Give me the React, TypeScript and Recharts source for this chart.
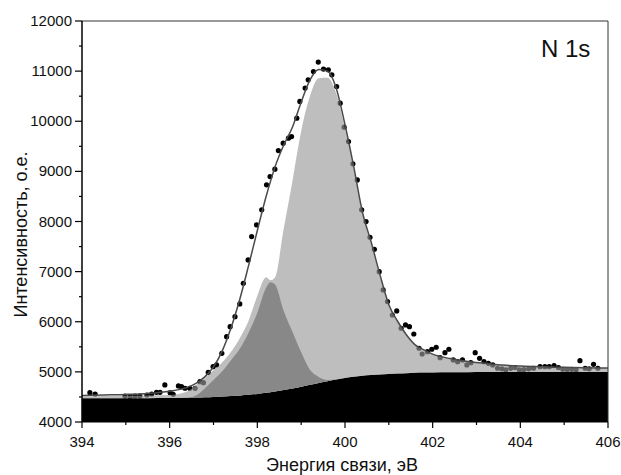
import React from 'react'
import { ComposedChart, Area, Line, Scatter, XAxis, YAxis, ReferenceLine } from 'recharts'

// the picture is taken of #root only, so let it span the whole window
document.body.style.margin = '0'

// binding energy grid for the fitted curves (eV)
const energy = [
  394, 394.5, 395, 395.5, 396, 396.4, 396.6, 396.8, 397, 397.2, 397.4, 397.6, 397.8,
  398, 398.2, 398.3, 398.4, 398.6, 398.8, 399, 399.2, 399.4, 399.6, 399.8,
  400, 400.2, 400.4, 400.6, 400.8, 401, 401.2, 401.4, 401.6, 401.8,
  402, 402.4, 402.8, 403.2, 403.6, 404, 404.5, 405, 405.5, 406,
]

// Shirley background
const background = [
  4475, 4475, 4475, 4476, 4478, 4483, 4487, 4493, 4500, 4508, 4518, 4530, 4544,
  4560, 4582, 4595, 4608, 4638, 4670, 4705, 4741, 4778, 4813, 4847,
  4878, 4903, 4922, 4937, 4950, 4960, 4968, 4975, 4981, 4986,
  4990, 4993, 4995, 4996, 4997, 4998, 4999, 5000, 5000, 5000,
]

// light grey components (398.2 eV and 399.5 eV)
const lightPeaks = [
  4515, 4520, 4525, 4530, 4540, 4610, 4740, 4880, 5030, 5190, 5400, 5670, 6020,
  6520, 6890, 6830, 6880, 7850, 8800, 9800, 10500, 10860, 10870, 10560,
  9850, 9040, 8150, 7550, 6900, 6330, 6000, 5735, 5535, 5436,
  5352, 5262, 5203, 5168, 5133, 5113, 5098, 5088, 5080, 5076,
]

// dark grey component (398.3 eV)
const darkPeak = [
  4475, 4475, 4475, 4476, 4478, 4485, 4530, 4670, 4840, 5010, 5230, 5460, 5780,
  6180, 6680, 6790, 6750, 6220, 5800, 5390, 5040, 4900, 4840, 4847,
  4878, 4903, 4922, 4937, 4950, 4960, 4968, 4975, 4981, 4986,
  4990, 4993, 4995, 4996, 4997, 4998, 4999, 5000, 5000, 5000,
]

// fit envelope
const envelope = [
  4530, 4540, 4550, 4570, 4615, 4690, 4770, 4900, 5100, 5420, 5880, 6450, 7120,
  7820, 8500, 8800, 9080, 9520, 9880, 10380, 10820, 11030, 11000, 10660,
  9930, 9090, 8180, 7580, 6930, 6340, 6010, 5740, 5540, 5440,
  5355, 5265, 5205, 5170, 5135, 5115, 5100, 5090, 5082, 5078,
]

// measured points
const dotEnergy = [
  394.18, 394.3, 394.98, 395.1, 395.21, 395.32, 395.48, 395.59, 395.7, 395.78,
  395.89, 396.01, 396.08, 396.2, 396.27, 396.35, 396.46, 396.58, 396.69, 396.77,
  396.88, 396.99, 397.07, 397.19, 397.3, 397.38, 397.49, 397.6, 397.68, 397.79,
  397.87, 397.98, 398.1, 398.21, 398.29, 398.4, 398.48, 398.59, 398.71, 398.78,
  398.9, 398.97, 399.09, 399.16, 399.28, 399.39, 399.51, 399.62, 399.7, 399.81,
  399.89, 399.98, 400.08, 400.18, 400.28, 400.38, 400.48, 400.57, 400.67, 400.78,
  400.87, 400.97, 401.08, 401.18, 401.28, 401.38, 401.47, 401.57, 401.69, 401.76,
  401.88, 401.98, 402.08, 402.17, 402.28, 402.37, 402.47, 402.57, 402.68, 402.78,
  402.87, 402.97, 403.07, 403.17, 403.27, 403.37, 403.48, 403.58, 403.67, 403.78,
  403.88, 403.98, 404.08, 404.19, 404.3, 404.45, 404.56, 404.66, 404.77, 404.87,
  404.97, 405.07, 405.17, 405.27, 405.36, 405.48, 405.57, 405.67, 405.77,
]
const dotCounts = [
  4585, 4559, 4519, 4505, 4519, 4519, 4539, 4559, 4592, 4592,
  4739, 4585, 4552, 4719, 4705, 4673, 4672, 4672, 4805, 4785,
  4990, 5104, 5138, 5371, 5703, 5902, 6102, 6355, 6768, 7234,
  7699, 7932, 8232, 8731, 8896, 9043, 9415, 9563, 9663, 9695,
  10062, 10395, 10661, 10826, 10992, 11180, 11040, 11026, 10926, 10693,
  10361, 9882, 9595, 9150, 8830, 8232, 7998, 7686, 7446, 7000,
  6635, 6402, 6135, 6216, 5870, 5936, 5902, 5756, 5471, 5357,
  5403, 5451, 5491, 5284, 5384, 5451, 5238, 5204, 5238, 5138,
  5184, 5384, 5271, 5204, 5171, 5138, 5072, 5060, 5038, 5070,
  5085, 5038, 5045, 5060, 5072, 5104, 5104, 5104, 5125, 5085,
  5052, 5045, 5050, 5038, 5224, 5072, 5060, 5151, 5072,
]

const xTicks = [394, 395, 396, 397, 398, 399, 400, 401, 402, 403, 404, 405, 406]
const yTicks = [
  4000, 4500, 5000, 5500, 6000, 6500, 7000, 7500, 8000,
  8500, 9000, 9500, 10000, 10500, 11000, 11500, 12000,
]

const font = '"Liberation Sans", Arial, sans-serif'

const chartData = energy.map((e, i) => ({
  e,
  bg: background[i],
  light: [background[i], lightPeaks[i]],
  dark: [background[i], darkPeak[i]],
  fit: envelope[i],
}))

const dots = dotEnergy.map((e, i) => ({ e, y: dotCounts[i] }))

const YTick = (props: any) => {
  const { x, y, payload } = props
  const ax = x + 7
  const major = payload.value % 1000 === 0
  return (
    <g>
      <line x1={ax - (major ? 7 : 3)} x2={ax} y1={y} y2={y} stroke="#000" strokeWidth={1.2} />
      {major && (
        <text x={ax - 10} y={y + 5} textAnchor="end" fontSize={15} fontFamily={font} fill="#111">
          {payload.value}
        </text>
      )}
    </g>
  )
}

const XTick = (props: any) => {
  const { x, y, payload } = props
  const ay = y - 7
  const major = payload.value % 2 === 0
  return (
    <g>
      <line x1={x} x2={x} y1={ay} y2={ay + (major ? 6 : 3)} stroke="#000" strokeWidth={1.2} />
      {major && (
        <text x={x} y={ay + 25} textAnchor="middle" fontSize={15} fontFamily={font} fill="#111">
          {payload.value}
        </text>
      )}
    </g>
  )
}

const YTitle = (props: any) => {
  const vb = props.viewBox
  const cy = vb.y + vb.height / 2 + 13
  return (
    <text
      transform={`translate(21, ${cy}) rotate(-90)`}
      textAnchor="middle"
      dominantBaseline="central"
      fontSize={18}
      fontFamily={font}
      fill="#111"
    >
      Интенсивность, о.е.
    </text>
  )
}

const XTitle = (props: any) => {
  const vb = props.viewBox
  return (
    <text x={vb.x + vb.width / 2 - 3} y={471} textAnchor="middle" fontSize={18} fontFamily={font} fill="#111">
      Энергия связи, эВ
    </text>
  )
}

export default function App() {
  return (
    <div style={{ position: 'relative', width: 621, height: 475, fontFamily: font }}>
      <ComposedChart
        width={621}
        height={475}
        data={chartData}
        margin={{ top: 21, right: 13, left: 0, bottom: 0 }}
      >
        <XAxis
          dataKey="e"
          type="number"
          domain={[394, 406]}
          ticks={xTicks}
          interval={0}
          height={53}
          tickSize={7}
          tickMargin={0}
          tickLine={false}
          tick={<XTick />}
          axisLine={{ stroke: '#000', strokeWidth: 1.2 }}
          label={{ content: <XTitle /> }}
        />
        <YAxis
          type="number"
          domain={[4000, 12000]}
          ticks={yTicks}
          interval={0}
          width={82}
          tickSize={7}
          tickMargin={0}
          tickLine={false}
          tick={<YTick />}
          axisLine={{ stroke: '#000', strokeWidth: 1.5 }}
          label={{ content: <YTitle /> }}
        />
        <Scatter
          data={dots}
          dataKey="y"
          zIndex={50}
          isAnimationActive={false}
          shape={(p: any) => <circle cx={p.cx} cy={p.cy} r={2.6} fill="#000" />}
        />
        <Area
          dataKey="bg"
          type="monotone"
          baseValue={4000}
          fill="#000"
          fillOpacity={1}
          stroke="none"
          isAnimationActive={false}
        />
        <Area
          dataKey="light"
          type="monotone"
          fill="#9a9a9a"
          fillOpacity={0.64}
          stroke="none"
          isAnimationActive={false}
        />
        <Area
          dataKey="dark"
          type="monotone"
          fill="#888888"
          fillOpacity={1}
          stroke="none"
          isAnimationActive={false}
        />
        <Line
          dataKey="fit"
          type="monotone"
          stroke="#4a4a4a"
          strokeWidth={1.5}
          dot={false}
          isAnimationActive={false}
        />
        <ReferenceLine y={12000} stroke="#777" strokeWidth={1.5} />
        <ReferenceLine x={406} stroke="#333" strokeWidth={1} />
      </ComposedChart>
      <svg
        width={621}
        height={475}
        style={{ position: 'absolute', left: 0, top: 0, pointerEvents: 'none' }}
      >
        <text x={541} y={57} fontSize={24} fontFamily={font} fill="#111">
          N 1s
        </text>
      </svg>
    </div>
  )
}
